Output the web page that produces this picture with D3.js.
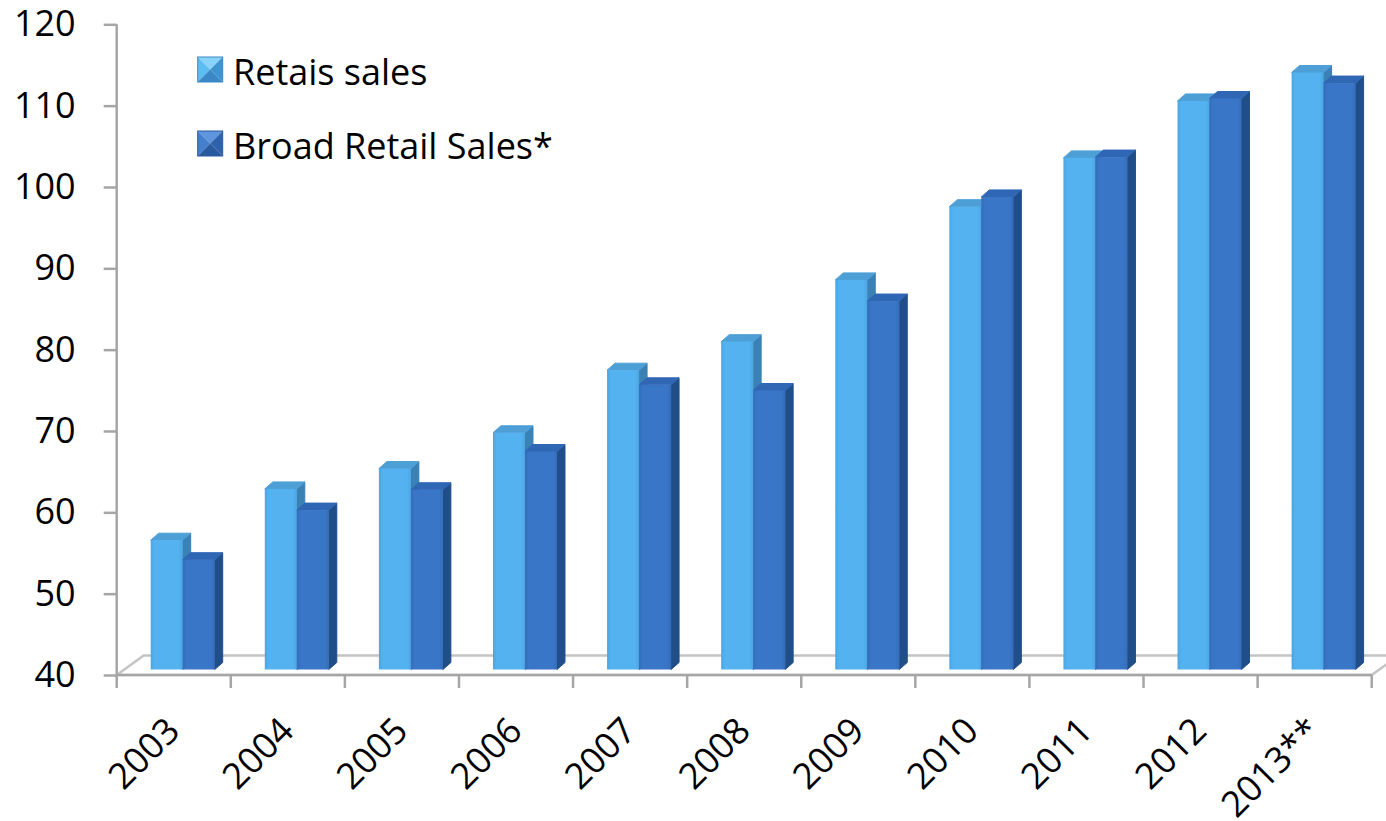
<!DOCTYPE html>
<html>
<head>
<meta charset="utf-8">
<script src="https://cdn.jsdelivr.net/npm/d3@7"></script>
<style>
  html, body { margin: 0; padding: 0; background: #ffffff; }
  svg { display: block; }
  text { font-family: "Open Sans", "Noto Sans", sans-serif; fill: #000; }
</style>
</head>
<body>
<svg id="chart" width="1386" height="821"></svg>
<script>
// ---- data ----
const years = ["2003", "2004", "2005", "2006", "2007", "2008", "2009", "2010", "2011", "2012", "2013**"];
const retailSales = [55.9, 62.2, 64.7, 69.1, 76.8, 80.3, 87.9, 96.9, 102.9, 109.9, 113.4];
const broadRetailSales = [53.5, 59.6, 62.1, 66.8, 75.0, 74.3, 85.3, 98.1, 103.0, 110.2, 112.1];
const seriesNames = ["Retais sales", "Broad Retail Sales*"];
const yTicks = [40, 50, 60, 70, 80, 90, 100, 110, 120];

// ---- layout ----
const svg = d3.select("#chart");
const plot = { left: 116.7, right: 1371.7, top: 24.3, bottom: 675 };
const floorDepth = { dx: 27, dy: -19.5 };   // front edge of floor -> back edge
const barShift = { dx: 7.6, dy: -5.5 };     // bars stand a little behind the front edge
const barDepth = { dx: 8, dy: -7 };         // thickness of each column
const groupOffset = 26.4;                   // gap from category start to first column
const colWidth = 32;

const x = d3.scaleBand().domain(years).range([plot.left, plot.right]).padding(0);
const xs = d3.scaleBand().domain(seriesNames).range([0, colWidth * 2]).padding(0);
const y = d3.scaleLinear().domain([40, 120]).range([plot.bottom, plot.top]);

const styles = [
  { front: "#53B2EF", frontEdge: "#4BA6E2", top: "#4D9FD6", side: "#3A81B5",
    icon: ["#8AD3F8", "#5CBDF2", "#3F94D0", "#3A89C6"] },
  { front: "#3A76C7", frontEdge: "#336CB9", top: "#2F67B4", side: "#204E88",
    icon: ["#5F95DC", "#4580CF", "#2E62AA", "#2A5A9E"] }
];

// gradients for a slightly rounded front face
const defs = svg.append("defs");
styles.forEach((s, i) => {
  const g = defs.append("linearGradient").attr("id", "front" + i)
    .attr("x1", 0).attr("x2", 1).attr("y1", 0).attr("y2", 0);
  g.append("stop").attr("offset", "0%").attr("stop-color", s.frontEdge);
  g.append("stop").attr("offset", "12%").attr("stop-color", s.front);
  g.append("stop").attr("offset", "88%").attr("stop-color", s.front);
  g.append("stop").attr("offset", "100%").attr("stop-color", s.frontEdge);
});

const axisColor = "#A6A6A6";

// ---- floor ----
const floor = svg.append("g");
floor.append("path")
  .attr("d", [
    "M", plot.left, plot.bottom,
    "L", plot.left + floorDepth.dx, plot.bottom + floorDepth.dy,
    "L", plot.right + floorDepth.dx, plot.bottom + floorDepth.dy,
    "L", plot.right, plot.bottom, "Z"].join(" "))
  .attr("fill", "#fff")
  .attr("stroke", "#C4C4C4")
  .attr("stroke-width", 2.5)
  .attr("stroke-linejoin", "round");

// ---- columns ----
const series = [retailSales, broadRetailSales];
const bars = svg.append("g");
years.forEach((yr, j) => {
  series.forEach((vals, i) => {
    const s = styles[i];
    const x0 = x(yr) + groupOffset + barShift.dx + xs(seriesNames[i]);
    const w = xs.bandwidth();
    const top = y(vals[j]) + barShift.dy;
    const base = y(40) + barShift.dy;
    const g = bars.append("g");
    // side face
    g.append("path")
      .attr("d", `M${x0 + w},${top} L${x0 + w + barDepth.dx},${top + barDepth.dy} L${x0 + w + barDepth.dx},${base + barDepth.dy} L${x0 + w},${base} Z`)
      .attr("fill", s.side)
      .attr("stroke", s.side).attr("stroke-width", 1).attr("stroke-linejoin", "round");
    // top face
    g.append("path")
      .attr("d", `M${x0},${top} L${x0 + barDepth.dx},${top + barDepth.dy} L${x0 + w + barDepth.dx},${top + barDepth.dy} L${x0 + w},${top} Z`)
      .attr("fill", s.top)
      .attr("stroke", s.top).attr("stroke-width", 1).attr("stroke-linejoin", "round");
    // front face
    g.append("rect")
      .attr("x", x0).attr("y", top)
      .attr("width", w).attr("height", base - top)
      .attr("fill", `url(#front${i})`);
  });
});

// ---- value axis ----
const yAxis = svg.append("g")
  .attr("transform", `translate(${plot.left},0)`)
  .call(d3.axisLeft(y).tickValues(yTicks).tickSize(13).tickPadding(28).tickFormat(d3.format("d")));
yAxis.select(".domain").attr("stroke", axisColor).attr("stroke-width", 2.5)
  .attr("d", `M0,${plot.top}V${plot.bottom}`);
yAxis.selectAll(".tick line").attr("stroke", axisColor).attr("stroke-width", 2.5);
yAxis.selectAll(".tick text")
  .attr("font-size", 36).attr("font-family", "'Open Sans', sans-serif").attr("fill", "#000");

// ---- category axis ----
const xAxis = svg.append("g");
xAxis.append("line")
  .attr("x1", plot.left).attr("x2", plot.right)
  .attr("y1", plot.bottom).attr("y2", plot.bottom)
  .attr("stroke", axisColor).attr("stroke-width", 2.5);
const boundaries = years.map(d => x(d)).concat([plot.right]);
xAxis.selectAll("line.tick").data(boundaries).enter().append("line")
  .attr("class", "tick")
  .attr("x1", d => d).attr("x2", d => d)
  .attr("y1", plot.bottom).attr("y2", plot.bottom + 13)
  .attr("stroke", axisColor).attr("stroke-width", 2.5);
xAxis.selectAll("text").data(years).enter().append("text")
  .attr("transform", d => `translate(${x(d) + x.bandwidth() / 2 + 8},${733}) rotate(-45)`)
  .attr("text-anchor", "end")
  .attr("font-size", 36)
  .text(d => d);

// ---- legend ----
const legend = svg.append("g");
const iconSize = 25;
seriesNames.forEach((name, i) => {
  const lx = 197.7, ly = 57 + i * 74;
  const c = styles[i].icon;
  const g = legend.append("g").attr("transform", `translate(${lx},${ly})`);
  const m = iconSize / 2, sz = iconSize;
  g.append("path").attr("d", `M0,0 L${sz},0 L${m},${m} Z`).attr("fill", c[0]);
  g.append("path").attr("d", `M0,0 L${m},${m} L0,${sz} Z`).attr("fill", c[1]);
  g.append("path").attr("d", `M${sz},0 L${sz},${sz} L${m},${m} Z`).attr("fill", c[2]);
  g.append("path").attr("d", `M0,${sz} L${m},${m} L${sz},${sz} Z`).attr("fill", c[3]);
  g.append("rect").attr("width", sz).attr("height", sz)
    .attr("fill", "none").attr("stroke", c[3]).attr("stroke-width", 1);
  legend.append("text")
    .attr("x", 233).attr("y", ly + 28)
    .attr("font-size", 36)
    .text(name);
});
</script>
</body>
</html>
